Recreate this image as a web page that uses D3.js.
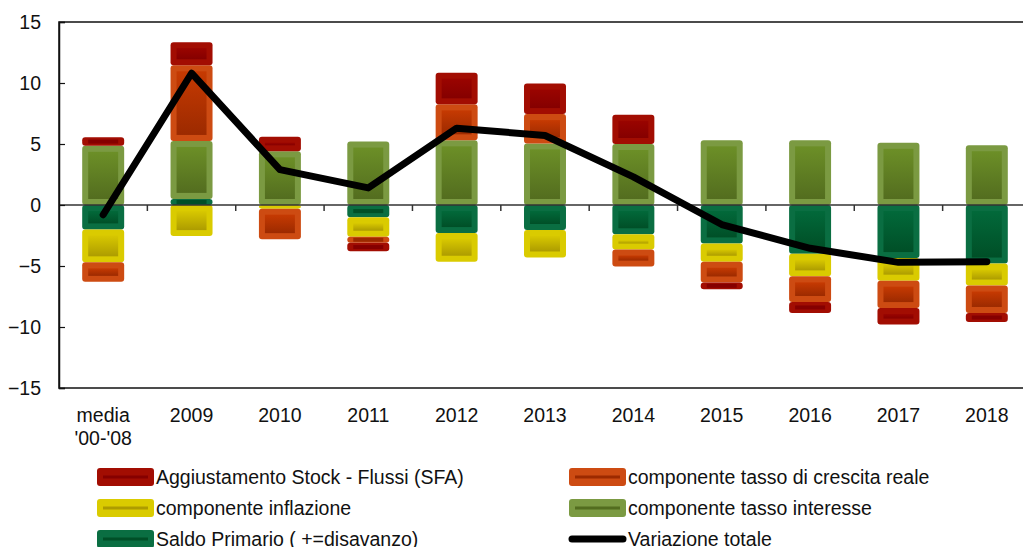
<!DOCTYPE html>
<html>
<head>
<meta charset="utf-8">
<script src="https://cdn.jsdelivr.net/npm/d3@7"></script>
<style>
  body { margin: 0; background: #fff; }
  text { font-family: "Liberation Sans", Arial, sans-serif; fill: #111; }
</style>
</head>
<body>
<svg id="chart" width="1023" height="547"></svg>
<script>
// categories and series (percentage points)
var categories = ["media\n'00-'08", "2009", "2010", "2011", "2012", "2013", "2014", "2015", "2016", "2017", "2018"];
var saldo      = [-2.0, 0.5, 0.0, -1.0, -2.3, -2.05, -2.4, -3.15, -4.0, -4.35, -4.8];
var interesse  = [4.85, 4.75, 4.4, 5.2, 5.3, 5.05, 5.0, 5.3, 5.3, 5.1, 4.9];
var inflazione = [-2.7, -2.55, -0.3, -1.6, -2.35, -2.25, -1.25, -1.5, -1.85, -1.85, -1.8];
var crescita   = [-1.6, 6.2, -2.5, -0.5, 2.95, 2.4, -1.4, -1.7, -2.1, -2.25, -2.25];
var sfa        = [0.7, 1.9, 1.2, -0.7, 2.6, 2.5, 2.4, -0.55, -0.9, -1.35, -0.75];
var totale     = [-0.8, 10.8, 2.9, 1.4, 6.3, 5.7, 2.3, -1.6, -3.55, -4.7, -4.65];
var yTicks     = [-15, -10, -5, 0, 5, 10, 15];

var keys = ["saldo", "interesse", "inflazione", "crescita", "sfa"];
var names = {
    sfa: "Aggiustamento Stock - Flussi (SFA)",
    crescita: "componente tasso di crescita reale",
    inflazione: "componente inflazione",
    interesse: "componente tasso interesse",
    saldo: "Saldo Primario ( +=disavanzo)"
};
// outer (soft edge), gradient top, gradient bottom
var colors = {
    sfa:        ["#a20d02", "#9a0400", "#850000"],
    crescita:   ["#cd4b12", "#c63a02", "#9c2a00"],
    inflazione: ["#dacb00", "#d8c800", "#ad9c00"],
    interesse:  ["#7b9a42", "#6c8f27", "#536d1f"],
    saldo:      ["#0a6e42", "#02693a", "#004f27"]
};

var table = categories.map(function (c, i) {
    return {cat: c, saldo: saldo[i], interesse: interesse[i], inflazione: inflazione[i],
            crescita: crescita[i], sfa: sfa[i], totale: totale[i]};
});

var svg = d3.select("#chart");
var margin = {top: 22, left: 59, bottom: 388, right: 1031};

var x = d3.scaleBand().domain(categories).range([margin.left, margin.right]).padding(0);
var y = d3.scaleLinear().domain([-15, 15]).range([margin.bottom, margin.top]);
var barW = x.bandwidth() * 0.475;

// gradients
var defs = svg.append("defs");
keys.forEach(function (k) {
    var g = defs.append("linearGradient").attr("id", "g-" + k)
        .attr("x1", 0).attr("y1", 0).attr("x2", 0).attr("y2", 1);
    g.append("stop").attr("offset", "0%").attr("stop-color", colors[k][1]);
    g.append("stop").attr("offset", "100%").attr("stop-color", colors[k][2]);
});

// frame
svg.append("rect")
    .attr("x", margin.left).attr("y", margin.top)
    .attr("width", margin.right - margin.left).attr("height", margin.bottom - margin.top)
    .attr("fill", "none").attr("stroke", "#111").attr("stroke-width", 1.5);

// stacked bars
var series = d3.stack().keys(keys).offset(d3.stackOffsetDiverging)(table);
var inset = 6;
var groups = svg.append("g").selectAll("g").data(series).join("g");

var segs = groups.selectAll("g")
    .data(function (s) {
        return s.map(function (d) { return {key: s.key, d: d}; })
                .filter(function (e) { return Math.abs(e.d[1] - e.d[0]) > 0.001; });
    })
    .join("g");

segs.append("rect")
    .attr("x", function (e) { return x(e.d.data.cat) + x.bandwidth() / 2 - barW / 2; })
    .attr("y", function (e) { return y(Math.max(e.d[0], e.d[1])); })
    .attr("width", barW)
    .attr("height", function (e) { return Math.abs(y(e.d[0]) - y(e.d[1])); })
    .attr("rx", 3)
    .attr("fill", function (e) { return colors[e.key][0]; });

segs.filter(function (e) { return Math.abs(y(e.d[0]) - y(e.d[1])) > 2 * inset + 1; })
    .append("rect")
    .attr("x", function (e) { return x(e.d.data.cat) + x.bandwidth() / 2 - barW / 2 + inset; })
    .attr("y", function (e) { return y(Math.max(e.d[0], e.d[1])) + inset; })
    .attr("width", barW - 2 * inset)
    .attr("height", function (e) { return Math.abs(y(e.d[0]) - y(e.d[1])) - 2 * inset; })
    .attr("fill", function (e) { return "url(#g-" + e.key + ")"; });

// thin segments: a darker centre stripe
segs.filter(function (e) {
        var h = Math.abs(y(e.d[0]) - y(e.d[1]));
        return h <= 2 * inset + 1 && h > 6;
    })
    .append("rect")
    .attr("x", function (e) { return x(e.d.data.cat) + x.bandwidth() / 2 - barW / 2 + inset; })
    .attr("y", function (e) { return (y(e.d[0]) + y(e.d[1])) / 2 - 2; })
    .attr("width", barW - 2 * inset)
    .attr("height", 4)
    .attr("fill", function (e) { return colors[e.key][2]; });

// zero line with category ticks
svg.append("line")
    .attr("x1", margin.left).attr("x2", margin.right)
    .attr("y1", y(0)).attr("y2", y(0))
    .attr("stroke", "#333").attr("stroke-width", 1.5);
svg.append("g").selectAll("line")
    .data(categories.slice(1))
    .join("line")
    .attr("x1", function (c) { return x(c); }).attr("x2", function (c) { return x(c); })
    .attr("y1", y(0)).attr("y2", y(0) + 6)
    .attr("stroke", "#333").attr("stroke-width", 1.5);

// y axis
var yAxis = svg.append("g")
    .attr("transform", "translate(" + margin.left + ",0)")
    .call(d3.axisLeft(y).tickValues(yTicks).tickSize(-6).tickPadding(18));
yAxis.select(".domain").attr("stroke", "#111").attr("stroke-width", 1.5);
yAxis.selectAll(".tick line").attr("stroke", "#111").attr("stroke-width", 1.2);
yAxis.selectAll("text")
    .style("font-family", "'Liberation Sans', Arial, sans-serif")
    .style("font-size", "19.5px").attr("fill", "#111");

// x labels
var xl = svg.append("g").selectAll("text")
    .data(categories)
    .join("text")
    .attr("x", function (c) { return x(c) + x.bandwidth() / 2; })
    .attr("y", 422)
    .attr("text-anchor", "middle")
    .style("font-size", "19.5px");
xl.selectAll("tspan")
    .data(function (c) { return c.split("\n"); })
    .join("tspan")
    .attr("x", function () { return d3.select(this.parentNode).attr("x"); })
    .attr("dy", function (t, i) { return i === 0 ? 0 : 23; })
    .text(function (t) { return t; });

// total line
var line = d3.line()
    .x(function (d) { return x(d.cat) + x.bandwidth() / 2; })
    .y(function (d) { return y(d.totale); });
svg.append("path")
    .datum(table)
    .attr("d", line)
    .attr("fill", "none")
    .attr("stroke", "#000")
    .attr("stroke-width", 7)
    .attr("stroke-linejoin", "round")
    .attr("stroke-linecap", "round");

// legend
var legendItems = ["sfa", "crescita", "inflazione", "interesse", "saldo", "totale"];
var legend = svg.append("g").selectAll("g")
    .data(legendItems)
    .join("g")
    .attr("transform", function (k, i) {
        var col = i % 2, row = Math.floor(i / 2);
        return "translate(" + (col === 0 ? 97 : 569) + "," + (477 + row * 31) + ")";
    });

legend.filter(function (k) { return k !== "totale"; })
    .append("rect")
    .attr("x", 0).attr("y", -9).attr("width", 57).attr("height", 18).attr("rx", 3)
    .attr("fill", function (k) { return colors[k][0]; });
legend.filter(function (k) { return k !== "totale"; })
    .append("rect")
    .attr("x", 6).attr("y", -1.5).attr("width", 45).attr("height", 3)
    .attr("fill", function (k) { return colors[k][2]; });
legend.filter(function (k) { return k === "totale"; })
    .append("line")
    .attr("x1", 3).attr("x2", 54).attr("y1", 0).attr("y2", 0)
    .attr("stroke", "#000").attr("stroke-width", 7).attr("stroke-linecap", "round");

legend.append("text")
    .attr("x", 59).attr("y", 0).attr("dy", "0.35em")
    .style("font-size", "19.5px")
    .text(function (k) { return k === "totale" ? "Variazione totale" : names[k]; });
</script>
</body>
</html>
